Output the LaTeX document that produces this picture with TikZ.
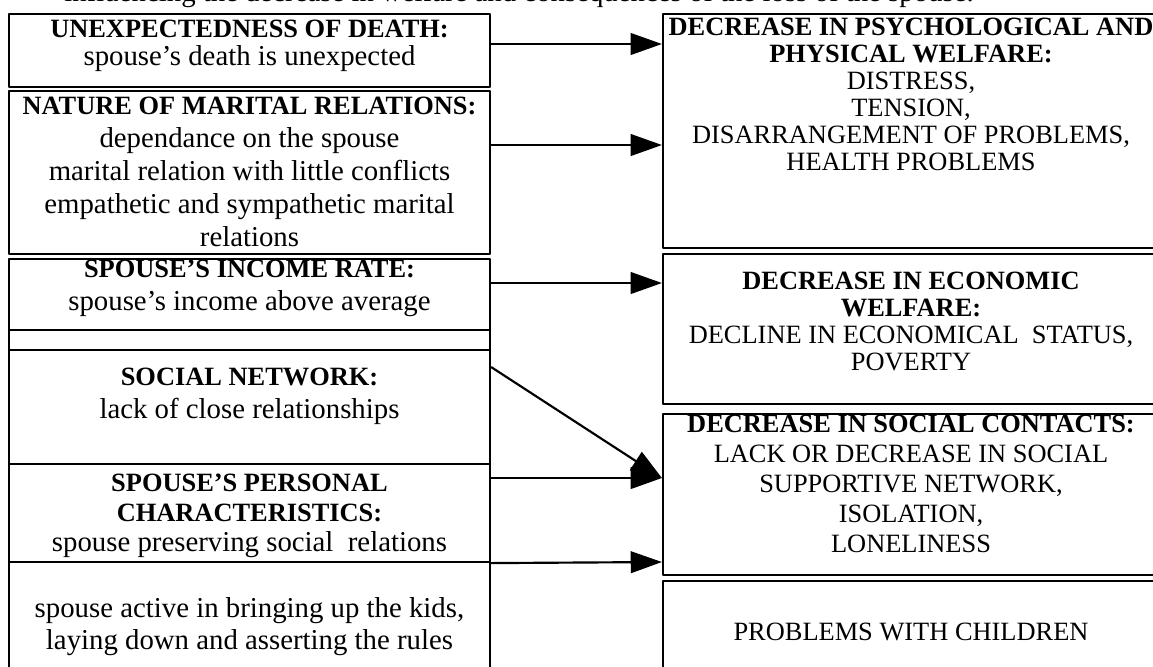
\documentclass[tikz,border=0pt]{standalone}
\usepackage{fontspec}
\setmainfont{Liberation Serif}
\usetikzlibrary{arrows.meta,fit}
\newcommand{\hdl}{\bfseries\fontsize{11}{12}\selectfont}
\tikzset{
  box/.style={draw, line width=.9pt, inner sep=0pt},
  ltxt/.style={align=center, anchor=base, inner sep=0pt, font=\fontsize{12}{#1}\selectfont},
  rtxt/.style={align=center, anchor=base, inner sep=0pt, font=\fontsize{11}{#1}\selectfont},
  conn/.style={->, line width=.9pt},
}
\begin{document}
\begin{tikzpicture}[x=0.4167pt, y=-0.4167pt, line join=round, >={Triangle[length=13pt,width=9pt]}]
	\useasboundingbox (0,0) rectangle (1153,666);
	\clip (0,0) rectangle (1153,666);
	\node[ltxt=14pt, anchor=base west] (intro) at (64,1) {influencing the decrease in welfare and consequences of the loss of the spouse.};
	
	% causes, left column (text placed by the baseline of its last line)
	\node[ltxt=11.67pt] (unexptxt) at (249.5,65) {{\hdl UNEXPECTEDNESS OF DEATH:}\\ spouse’s death is unexpected};
	\node[ltxt=13.75pt] (maritaltxt) at (249.5,246) {{\hdl NATURE OF MARITAL RELATIONS:}\\ dependance on the spouse\\ marital relation with little conflicts\\ empathetic and sympathetic marital\\ relations};
	\node[ltxt=13.75pt] (incometxt) at (249.5,310) {{\hdl SPOUSE’S INCOME RATE:}\\ spouse’s income above average};
	\node[ltxt=13.75pt] (socnettxt) at (249.5,418) {{\hdl SOCIAL NETWORK:}\\ lack of close relationships};
	\node[ltxt=12.5pt] (persontxt) at (249.5,551) {{\hdl SPOUSE’S PERSONAL}\\ {\hdl CHARACTERISTICS:}\\ spouse preserving social\ \ relations};
	\node[ltxt=13.3pt] (kidstxt) at (249.5,649) {spouse active in bringing up the kids,\\ laying down and asserting the rules};
	\node[box, fit={(9,14) (490,87)}] (unexp) {};
	\node[box, fit={(9,91) (490,254)}] (marital) {};
	\node[box, fit={(9,259) (490,330)}] (income) {};
	\node[box, fit={(9,330) (490,350)}] (blank) {};
	\node[box, fit={(9,350) (490,464)}] (socnet) {};
	\node[box, fit={(9,464) (490,562)}] (person) {};
	\node[box, fit={(9,562) (490,690)}] (kids) {};
	
	% consequences, right column
	\node[rtxt=11.25pt] (psytxt) at (911,170) {\textbf{DECREASE IN PSYCHOLOGICAL AND}\\ \textbf{PHYSICAL WELFARE:}\\ DISTRESS,\\ TENSION,\\ DISARRANGEMENT OF PROBLEMS,\\ HEALTH PROBLEMS};
	\node[rtxt=11.25pt] (econtxt) at (911,370) {\textbf{DECREASE IN ECONOMIC}\\ \textbf{WELFARE:}\\ DECLINE IN ECONOMICAL\ \ STATUS,\\ POVERTY};
	\node[rtxt=12.5pt] (soccontxt) at (911,552) {\textbf{DECREASE IN SOCIAL CONTACTS:}\\ LACK OR DECREASE IN SOCIAL\\ SUPPORTIVE NETWORK,\\ ISOLATION,\\ LONELINESS};
	\node[rtxt=12pt] (childtxt) at (911,640) {PROBLEMS WITH CHILDREN};
	\node[box, fit={(663,14) (1160,248)}] (psy) {};
	\node[box, fit={(663,254) (1160,404)}] (econ) {};
	\node[box, fit={(663,414) (1160,575)}] (soccon) {};
	\node[box, fit={(663,581) (1160,690)}] (child) {};
	
	\draw[conn] (unexp.east |- 0,44) -- (psy.west |- 0,44);
	\draw[conn] (marital.east |- 0,145) -- (psy.west |- 0,145);
	\draw[conn] (income.east |- 0,283) -- (econ.west |- 0,283);
	\draw[conn] (socnet.east |- 0,367) -- (soccon.west |- 0,478);
	\draw[conn] (person.east |- 0,478) -- (soccon.west |- 0,478);
	\draw[conn] (person.south east) -- (soccon.west |- 0,562);
\end{tikzpicture}
\end{document}
